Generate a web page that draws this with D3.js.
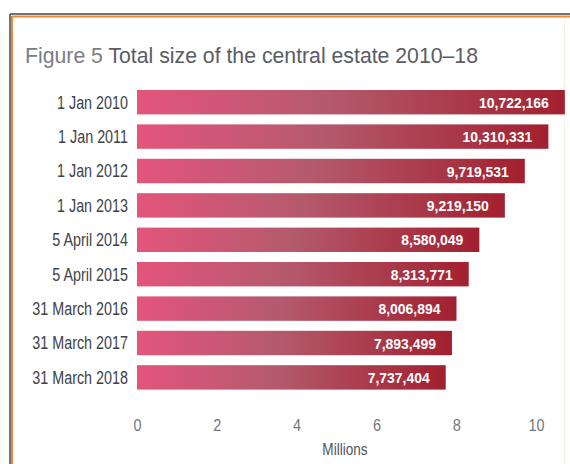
<!DOCTYPE html>
<html>
<head>
<meta charset="utf-8">
<script src="https://cdn.jsdelivr.net/npm/d3@7"></script>
<style>
  body { margin: 0; background: #fff; }
  svg text { font-family: "Liberation Sans", Arial, sans-serif; }
</style>
</head>
<body>
<div id="chart"></div>
<script>
// data
var categories = ["1 Jan 2010", "1 Jan 2011", "1 Jan 2012", "1 Jan 2013", "5 April 2014",
                  "5 April 2015", "31 March 2016", "31 March 2017", "31 March 2018"];
var values = [10722166, 10310331, 9719531, 9219150, 8580049, 8313771, 8006894, 7893499, 7737404];
var tickValues = [0, 2, 4, 6, 8, 10];

var width = 570, height = 464;

var svg = d3.select("#chart")
  .append("svg")
    .attr("width", width)
    .attr("height", height);

// frame (dark outer line + orange inner line)
svg.append("line").attr("x1", 10).attr("y1", 14).attr("x2", 10).attr("y2", height)
  .attr("stroke", "#444").attr("stroke-width", 1.5);
svg.append("line").attr("x1", 10).attr("y1", 14).attr("x2", width).attr("y2", 14)
  .attr("stroke", "#444").attr("stroke-width", 1.5);
svg.append("line").attr("x1", 12).attr("y1", 16).attr("x2", 12).attr("y2", height)
  .attr("stroke", "#f0883a").attr("stroke-width", 2);
svg.append("line").attr("x1", 12).attr("y1", 16.5).attr("x2", width).attr("y2", 16.5)
  .attr("stroke", "#f0883a").attr("stroke-width", 2);
svg.append("line").attr("x1", 564.5).attr("y1", 18).attr("x2", 564.5).attr("y2", height)
  .attr("stroke", "#fbeee4").attr("stroke-width", 1);

// title (condensed face squeezed to the width of the original)
var title = svg.append("text")
  .attr("x", 25)
  .attr("y", 63)
  .attr("textLength", 453)
  .attr("lengthAdjust", "spacingAndGlyphs")
  .style("font-size", "22px");
title.append("tspan").attr("fill", "#7a7d85").text("Figure 5 ");
title.append("tspan").attr("fill", "#5a5c64").text("Total size of the central estate 2010\u201318");

// scales
var x = d3.scaleLinear()
  .domain([0, 10])
  .range([137, 536]);

var y = d3.scaleBand()
  .domain(categories)
  .range([85, 394.6])
  .paddingInner(0.29)
  .paddingOuter(0.145);

// gradient for the bars
var defs = svg.append("defs");
var grad = defs.append("linearGradient")
  .attr("id", "barGrad")
  .attr("x1", "0%").attr("x2", "100%").attr("y1", "0%").attr("y2", "0%");
grad.append("stop").attr("offset", "0%").attr("stop-color", "#e4557c");
grad.append("stop").attr("offset", "45%").attr("stop-color", "#b45a6d");
grad.append("stop").attr("offset", "100%").attr("stop-color", "#a2202f");

var rows = categories.map(function(c, i) { return {cat: c, val: values[i]}; });

// bars
svg.selectAll(".bar")
  .data(rows)
  .enter()
  .append("rect")
    .attr("class", "bar")
    .attr("x", x(0))
    .attr("y", function(d) { return y(d.cat); })
    .attr("width", function(d) { return x(d.val / 1e6) - x(0); })
    .attr("height", y.bandwidth())
    .attr("fill", "url(#barGrad)");

// value labels inside bars
svg.selectAll(".val")
  .data(rows)
  .enter()
  .append("text")
    .attr("class", "val")
    .attr("transform", function(d) {
      return "translate(" + (x(d.val / 1e6) - 16) + "," + (y(d.cat) + y.bandwidth() / 2) + ") scale(0.9,1)";
    })
    .attr("dy", "0.36em")
    .attr("text-anchor", "end")
    .attr("fill", "#fff")
    .style("font-size", "15.5px")
    .style("font-weight", "bold")
    .text(function(d) { return d3.format(",")(d.val); });

// category labels
svg.selectAll(".cat")
  .data(rows)
  .enter()
  .append("text")
    .attr("class", "cat")
    .attr("transform", function(d) {
      return "translate(128," + (y(d.cat) + y.bandwidth() / 2) + ") scale(0.82,1)";
    })
    .attr("dy", "0.36em")
    .attr("text-anchor", "end")
    .attr("fill", "#404248")
    .style("font-size", "17.5px")
    .text(function(d) { return d.cat; });

// x axis, no line or ticks
var xAxis = svg.append("g")
  .attr("transform", "translate(0,419)")
  .call(d3.axisBottom(x).tickValues(tickValues).tickSize(0).tickPadding(0));
xAxis.select(".domain").remove();
xAxis.selectAll("text")
  .attr("transform", "scale(0.85,1)")
  .style("font-size", "17px")
  .style("font-family", null)
  .attr("fill", "#74767e");

svg.append("text")
  .attr("transform", "translate(345,455) scale(0.85,1)")
  .attr("text-anchor", "middle")
  .attr("fill", "#55575f")
  .style("font-size", "16px")
  .text("Millions");
</script>
</body>
</html>
